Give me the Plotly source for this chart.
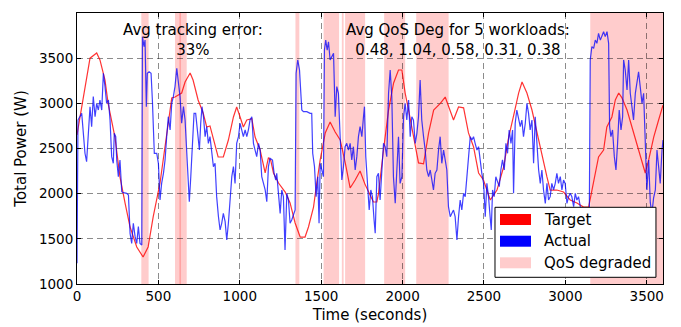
import plotly.graph_objects as go

# ---- data ----
target_t = [0, 8, 29, 49, 80, 121, 141, 172, 191, 233, 264, 295, 326, 367, 406, 437, 468, 510, 551, 582,
            602, 643, 664, 695, 713, 744, 775, 797, 817, 838, 867, 899, 930, 961, 981, 1002, 1022, 1043,
            1074, 1094, 1125, 1156, 1176, 1190, 1207, 1238, 1279, 1309, 1340, 1371, 1401, 1422, 1453,
            1473, 1494, 1525, 1555, 1586, 1617, 1648, 1678, 1709, 1739, 1770, 1800, 1821, 1842, 1852,
            1883, 1914, 1945, 1975, 1996, 2016, 2037, 2068, 2098, 2129, 2160, 2191, 2232, 2262, 2283,
            2313, 2344, 2375, 2405, 2436, 2467, 2497, 2539, 2580, 2621, 2652, 2683, 2713, 2734, 2764,
            2795, 2826, 2856, 2887, 2907, 2948, 2989, 3030, 3071, 3112, 3143, 3173, 3204, 3235, 3255,
            3286, 3307, 3328, 3348, 3379, 3409, 3440, 3471, 3491, 3512, 3543, 3573, 3600]
target_w = [2650, 2740, 2960, 3150, 3500, 3557, 3480, 3258, 3000, 2627, 2185, 1897, 1631, 1410, 1299, 1410,
            1742, 2118, 2627, 3060, 3070, 3114, 3236, 3336, 3258, 3037, 2893, 2738, 2750, 2594, 2406,
            2406, 2594, 2849, 2960, 2849, 2738, 2815, 2830, 2627, 2483, 2230, 2400, 2370, 2229, 2118,
            2018, 1897, 1675, 1520, 1520, 1631, 1852, 2118, 2373, 2672, 2793, 2683, 2594, 2340, 2063,
            2151, 2250, 2100, 1990, 1908, 1908, 2000, 2483, 2926, 3225, 3369, 3369, 3114, 2926, 2627,
            2340, 2330, 2672, 2926, 3000, 3070, 2960, 2815, 2960, 2950, 2672, 2520, 2229, 2151, 1930,
            2040, 2295, 2627, 2870, 3114, 3236, 3114, 2926, 2672, 2406, 2185, 2040, 2040, 2018, 1930,
            1897, 1852, 1852, 2118, 2406, 2483, 2738, 2849, 3037, 3114, 3060, 2926, 2738, 2560, 2373,
            2229, 2373, 2627, 2815, 2980]

actual_t = [0, 6, 29, 39, 49, 59, 70, 80, 90, 100, 111, 121, 131, 141, 152, 162, 172, 182, 193, 203, 213,
            223, 229, 238, 244, 254, 264, 275, 285, 305, 316, 326, 336, 346, 357, 367, 377, 387, 398, 402,
            412, 418, 426, 432, 443, 455, 463, 475, 490, 500, 510, 520, 531, 541, 551, 561, 572,
            582, 592, 602, 613, 623, 633, 643, 654, 664, 674, 684, 690, 699, 709, 719, 729, 740, 752,
            760, 768, 777, 787, 797, 807, 817, 828, 838, 848, 858, 869, 879, 889, 899, 910, 920, 930,
            940, 951, 961, 971, 981, 992, 1002, 1012, 1022, 1033, 1043, 1053, 1063, 1074, 1084, 1094,
            1104, 1115, 1125, 1135, 1145, 1156, 1166, 1176,
            1186, 1201, 1211, 1221, 1227, 1237, 1248, 1258, 1268, 1278, 1289, 1299, 1309, 1319, 1330,
            1340, 1346, 1356, 1367, 1381, 1391, 1412, 1432, 1442, 1448, 1459, 1469, 1479, 1487, 1494,
            1504, 1514, 1520, 1528, 1537, 1545, 1555, 1565, 1576, 1586, 1596, 1606, 1617, 1627, 1637,
            1647, 1657, 1668, 1678, 1688, 1698, 1709, 1719, 1729, 1739, 1750,
            1760, 1766, 1774, 1785, 1795, 1805, 1815, 1825, 1832, 1842, 1852, 1862, 1873, 1883, 1893,
            1903, 1914, 1924, 1934, 1944, 1955, 1965, 1975, 1985, 1996, 2006, 2016, 2026, 2037, 2047,
            2057, 2067, 2078, 2088, 2098, 2108, 2118, 2129, 2139, 2149, 2160, 2170, 2180, 2190, 2200,
            2211, 2221, 2231, 2241, 2252, 2262, 2272, 2282, 2293, 2303, 2313, 2323, 2334, 2344,
            2354, 2364, 2375, 2385, 2395, 2405, 2416, 2426, 2436, 2446, 2457, 2467, 2477, 2487, 2498,
            2508, 2518, 2528, 2538, 2545, 2553, 2563, 2573, 2584, 2594, 2604, 2614, 2625, 2635, 2645,
            2655, 2666, 2676, 2682, 2692, 2702, 2713, 2723, 2733, 2743, 2754, 2764, 2774, 2784, 2795,
            2805, 2815, 2825, 2836, 2846, 2856, 2866, 2877, 2887, 2897,
            2907, 2917, 2928, 2938, 2948, 2958, 2969, 2979, 2989, 2999, 3010, 3020, 3030, 3040, 3051,
            3061, 3071, 3081, 3092, 3102, 3112, 3122, 3133, 3147, 3153, 3163, 3174, 3184, 3194, 3204,
            3215, 3225, 3235, 3245, 3256, 3266, 3272, 3280, 3290, 3301, 3311, 3321, 3331, 3342, 3352,
            3358, 3368, 3379, 3389, 3399, 3409, 3419, 3430, 3440, 3450, 3460, 3471, 3481, 3491, 3501,
            3512, 3522, 3532, 3542, 3553, 3563, 3573, 3583, 3594, 3600]
actual_w = [1230, 2815, 2889, 2705, 2447, 2354, 2742, 2963, 2742, 3074, 2852, 3000, 2926, 3037, 2926, 3332,
            3185, 3000, 3037, 2815, 2410, 2336, 2668, 2631, 2373, 2188, 2373, 2022, 2011, 2004, 1985, 1561,
            1450, 1672, 1524, 1450, 1635, 1450, 1432, 3738, 3627, 3700, 2963, 3332, 3350, 3332, 3037,
            2447, 2447, 2336, 1930, 2114, 2225, 2373, 2631, 2852, 2705,
            3000, 3074, 3185, 3387, 3221, 3074, 2779, 2963, 2815, 2483, 2188, 1911, 2188, 2557, 2889,
            2889, 2668, 2483, 2779, 2963, 2852, 2631, 2742, 2557, 2631, 2447, 2299, 2336, 1967, 1745,
            1598, 1672, 1782, 1690, 1487, 1672, 1893, 2188, 2299, 2114, 2557, 2631, 2779, 2705, 2631,
            2705, 2631, 2705, 2815, 2852, 2557, 2483, 2410, 2557, 2483, 2188, 2114, 2041, 1911, 2299,
            2392, 2373, 2225, 2151, 2225, 1967, 1782, 2041, 1967, 1376, 2004, 1930, 1672, 1708, 1782,
            1819, 3332, 3480, 3369, 2926, 2908, 2908, 2889, 2889, 2447, 2299, 1967, 2188, 1672, 2336,
            2262, 2188, 3590, 3700, 3590, 3682, 3480, 3516, 3553, 2852, 3185, 3111, 2594, 2151, 2299,
            2520, 2557, 2483, 2557, 2373, 2520, 2262, 2410, 2631, 2742, 2631,
            2852, 2963, 2410, 2114, 1819, 2041, 1967, 1708, 1561, 2188, 2225, 1930, 2262, 2557, 2520,
            2410, 3111, 3369, 3074, 2188, 1893, 2262, 2631, 2114, 2188, 2852, 3000, 2815, 3037, 2631,
            2852, 2815, 2557, 2668, 2852, 3258, 2815, 2631, 2483, 2262, 2188, 2262, 2151, 2041, 2225,
            2262, 2483, 2631, 2336, 2483, 2373, 2262, 1856, 1745, 1782, 1819, 1745, 1487, 1745,
            1930, 1819, 2004, 1967, 2188, 2483, 2631, 2594, 2631, 2557, 2483, 2520, 2336, 2225, 2114,
            1745, 2114, 1967, 1745, 1598, 2041, 1967, 2188, 2114, 2078, 2262, 2373, 2262, 2557, 2447,
            2705, 2557, 2705, 2004, 2779, 2926, 2815, 2742, 2815, 2631, 2779, 3000, 2889, 2705, 2815,
            2336, 2852, 2557, 2262, 2114, 2262, 2041, 1893, 2114, 1930,
            1967, 2114, 2041, 2114, 2225, 2114, 2188, 2041, 2151, 2114, 1893, 1967, 2004, 1967, 1856,
            2004, 1930, 1967, 1856, 1819, 1708, 1635, 1672, 1672, 3480, 3627, 3608, 3700, 3664, 3775,
            3700, 3738, 3793, 3738, 3793, 3664, 2742, 2631, 2705, 2410, 2262, 2557, 2926, 2705, 2852,
            3480, 3369, 3148, 3480, 3111, 2926, 2815, 3111, 3258, 3350, 3185, 3000, 3111, 2668, 2041,
            2373, 1900, 1780, 1950, 2041, 2483, 2299, 2114, 2483, 2594]

# QoS degraded intervals (seconds)
qos_start = [395, 602, 629, 1342, 1515, 1627, 1647, 1887, 2084, 3153]
qos_end = [440, 639, 674, 1366, 1610, 1638, 1770, 2016, 2283, 3600]

x_ticks = [0, 500, 1000, 1500, 2000, 2500, 3000, 3500]
y_ticks = [1000, 1500, 2000, 2500, 3000, 3500, 4000]

legend_labels = ["Target", "Actual", "QoS degraded"]
legend_colors = ["#ff0000", "#0000ff", "rgba(255,0,0,0.2)"]

note_left = "Avg tracking error:<br>33%"
note_right = "Avg QoS Deg for 5 workloads:<br>0.48, 1.04, 0.58, 0.31, 0.38"

FONT = "DejaVu Sans"

fig = go.Figure()
fig.add_trace(go.Scatter(x=target_t, y=target_w, mode="lines", name="Target",
                         line=dict(color="rgba(255,0,0,0.8)", width=1.2), showlegend=False))
fig.add_trace(go.Scatter(x=actual_t, y=actual_w, mode="lines", name="Actual",
                         line=dict(color="rgba(0,0,255,0.75)", width=1.2), showlegend=False))

shapes = []
for s, e in zip(qos_start, qos_end):
    shapes.append(dict(type="rect", xref="x", yref="paper", x0=s, x1=e, y0=0, y1=1,
                       fillcolor="rgba(255,0,0,0.2)", line=dict(width=0), layer="below"))

# legend box (drawn manually to mimic filled patches)
shapes.append(dict(type="rect", xref="paper", yref="paper", x0=0.7133, x1=0.988, y0=0.0247, y1=0.283,
                   fillcolor="white", line=dict(color="black", width=1), layer="above"))
patch_y = [(0.2177, 0.2583), (0.1376, 0.1782), (0.0579, 0.0985)]
text_y = [0.2380, 0.1587, 0.0793]
annotations = []
for lab, col, (py0, py1), ty in zip(legend_labels, legend_colors, patch_y, text_y):
    shapes.append(dict(type="rect", xref="paper", yref="paper", x0=0.7218, x1=0.7747, y0=py0, y1=py1,
                       fillcolor=col, line=dict(width=0), layer="above"))
    annotations.append(dict(xref="paper", yref="paper", x=0.7935, y=ty, text=lab, showarrow=False,
                            xanchor="left", yanchor="middle", font=dict(family=FONT, size=15, color="black")))

annotations += [
    dict(xref="paper", yref="paper", x=0.198, y=0.902, text=note_left, showarrow=False,
         xanchor="center", yanchor="middle", align="center",
         font=dict(family=FONT, size=15, color="black")),
    dict(xref="paper", yref="paper", x=0.650, y=0.902, text=note_right, showarrow=False,
         xanchor="center", yanchor="middle", align="center",
         font=dict(family=FONT, size=15, color="black")),
]

axis_common = dict(showline=True, linecolor="black", linewidth=1, mirror="ticks",
                   ticks="inside", ticklen=4, tickcolor="black",
                   showgrid=True, gridcolor="rgba(0,0,0,0.45)", gridwidth=1, griddash="6px,4px",
                   zeroline=False, tickfont=dict(family=FONT, size=13.5, color="black"))

fig.update_xaxes(range=[0, 3600], tickvals=x_ticks, ticktext=[str(v) for v in x_ticks],
                 title=dict(text="Time (seconds)", font=dict(family=FONT, size=15, color="black"), standoff=6),
                 **axis_common)
fig.update_yaxes(range=[1000, 4000], tickvals=y_ticks, ticktext=[str(v) for v in y_ticks],
                 title=dict(text="Total Power (W)", font=dict(family=FONT, size=15, color="black"), standoff=8),
                 **axis_common)

# the page body adds an 8px offset, so the figure is sized to fit the 681x327 window
fig.update_layout(width=673, height=319, margin=dict(l=69, r=18, t=5, b=43, autoexpand=False),
                  paper_bgcolor="white", plot_bgcolor="white", shapes=shapes, annotations=annotations,
                  showlegend=False, font=dict(family=FONT, color="black"))

fig.write_html("out.html")
